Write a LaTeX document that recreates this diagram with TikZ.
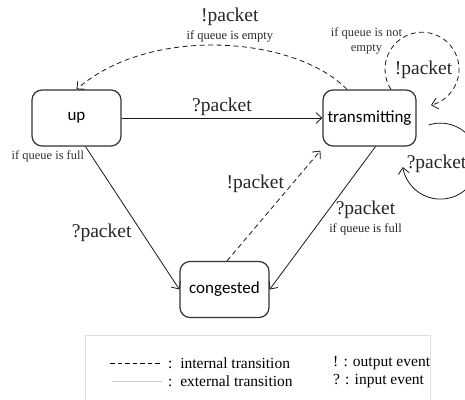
\documentclass[tikz,border=0pt]{standalone}
\usepackage{fontspec}
\setmainfont{Liberation Serif}
\newfontfamily\statefont{Carlito}
\usetikzlibrary{arrows.meta, positioning, calc}
\tikzset{
  state/.style={draw=black!80, line width=1.2pt, rounded corners=10pt, minimum width=89pt, minimum height=56pt, inner sep=2pt, font=\statefont\fontsize{17}{20}\selectfont},
  evt/.style={font=\fontsize{19.5}{22}\selectfont, inner sep=2pt, text=black!85},
  cond/.style={font=\fontsize{12.5}{15}\selectfont, inner sep=1pt, text=black!80},
  evtcond/.style={align=center, inner sep=0pt, text=black!85, font=\fontsize{12.5}{16}\selectfont},
  legendtxt/.style={font=\fontsize{15.5}{18}\selectfont, anchor=west, inner sep=0pt},
  extarrow/.style={-{Straight Barb[length=6pt,width=11pt]}, line width=0.8pt, draw=black!90},
  intarrow/.style={extarrow, dash pattern=on 5pt off 3.5pt}
}
\newcommand{\bigevt}[1]{{\fontsize{19.5}{22}\selectfont #1}}

\begin{document}
\begin{tikzpicture}[x=1pt, y=-1pt]
  \useasboundingbox (0,0) rectangle (465,399);
  \clip (0,0) rectangle (465,399);

  % States
  \node[state] (up) at (76.5,118) {up};
  \node[state, minimum width=93pt] (trans) at (369.5,118) {transmitting};
  \node[state] (cong) at (224.5,289.5) {congested};

  % External transitions
  \draw[extarrow] (up.east) -- node[evt, above] {?packet} (trans.west);
  \draw[extarrow] ([xshift=9pt]up.south) --
    node[cond, pos=0, anchor=north east, yshift=-3pt] {if queue is full}
    node[evt, pos=0.6, left=8pt] {?packet} (cong.west);
  \draw[extarrow] ([xshift=6pt]trans.south) --
    node[evtcond, pos=0.45, right=1pt, yshift=-7.5pt]
      {\bigevt{?packet}\\[2pt]if queue is full} (cong.east);
  \draw[extarrow] ([xshift=12pt,yshift=-7pt]trans.east)
    arc[start angle=252, end angle=531, radius=38];
  \node[evt, anchor=west] (inpkt) at ([xshift=-12pt,yshift=-17pt]trans.south east) {?packet};

  % Internal transitions
  \draw[intarrow] ([xshift=-22.5pt]trans.north) .. controls (295,36) and (150,25) ..
    node[evtcond, pos=0.5, above=3pt, xshift=10pt]
      {\bigevt{!packet}\\[2pt]if queue is empty} (up.north);
  \draw[intarrow] ([xshift=2.5pt]cong.north) --
    node[evt, pos=0.7, left=6pt] {!packet} ([xshift=-2pt,yshift=-4pt]trans.south west);
  \draw[intarrow] ([xshift=21.5pt]trans.north) arc[start angle=147, end angle=436, radius=37];
  \node[evt] (outpkt) at ([xshift=7pt,yshift=20pt]trans.north east) {!packet};
  \node[cond, align=center] (notempty) at ([xshift=-3pt,yshift=48pt]trans.north) {if queue is not\\empty};

  % Legend
  \draw[black!12, line width=0.8pt] (85,410) -- (85,335) -- (430,335) -- (430,410);
  \node[legendtxt] (lgint) at (168,363) {:~~internal transition};
  \node[legendtxt] (lgext) at (168,381) {:~~external transition};
  \node[legendtxt] (lgout) at (333,363) {! : output event};
  \node[legendtxt] (lgin) at (333,381) {? : input event};
  \draw[line width=0.8pt, dash pattern=on 4.5pt off 3pt] ([xshift=-58pt]lgint.west) -- ([xshift=-6pt]lgint.west);
  \draw[black!20, line width=0.8pt] ([xshift=-56pt]lgext.west) -- ([xshift=-6pt]lgext.west);
\end{tikzpicture}
\end{document}
